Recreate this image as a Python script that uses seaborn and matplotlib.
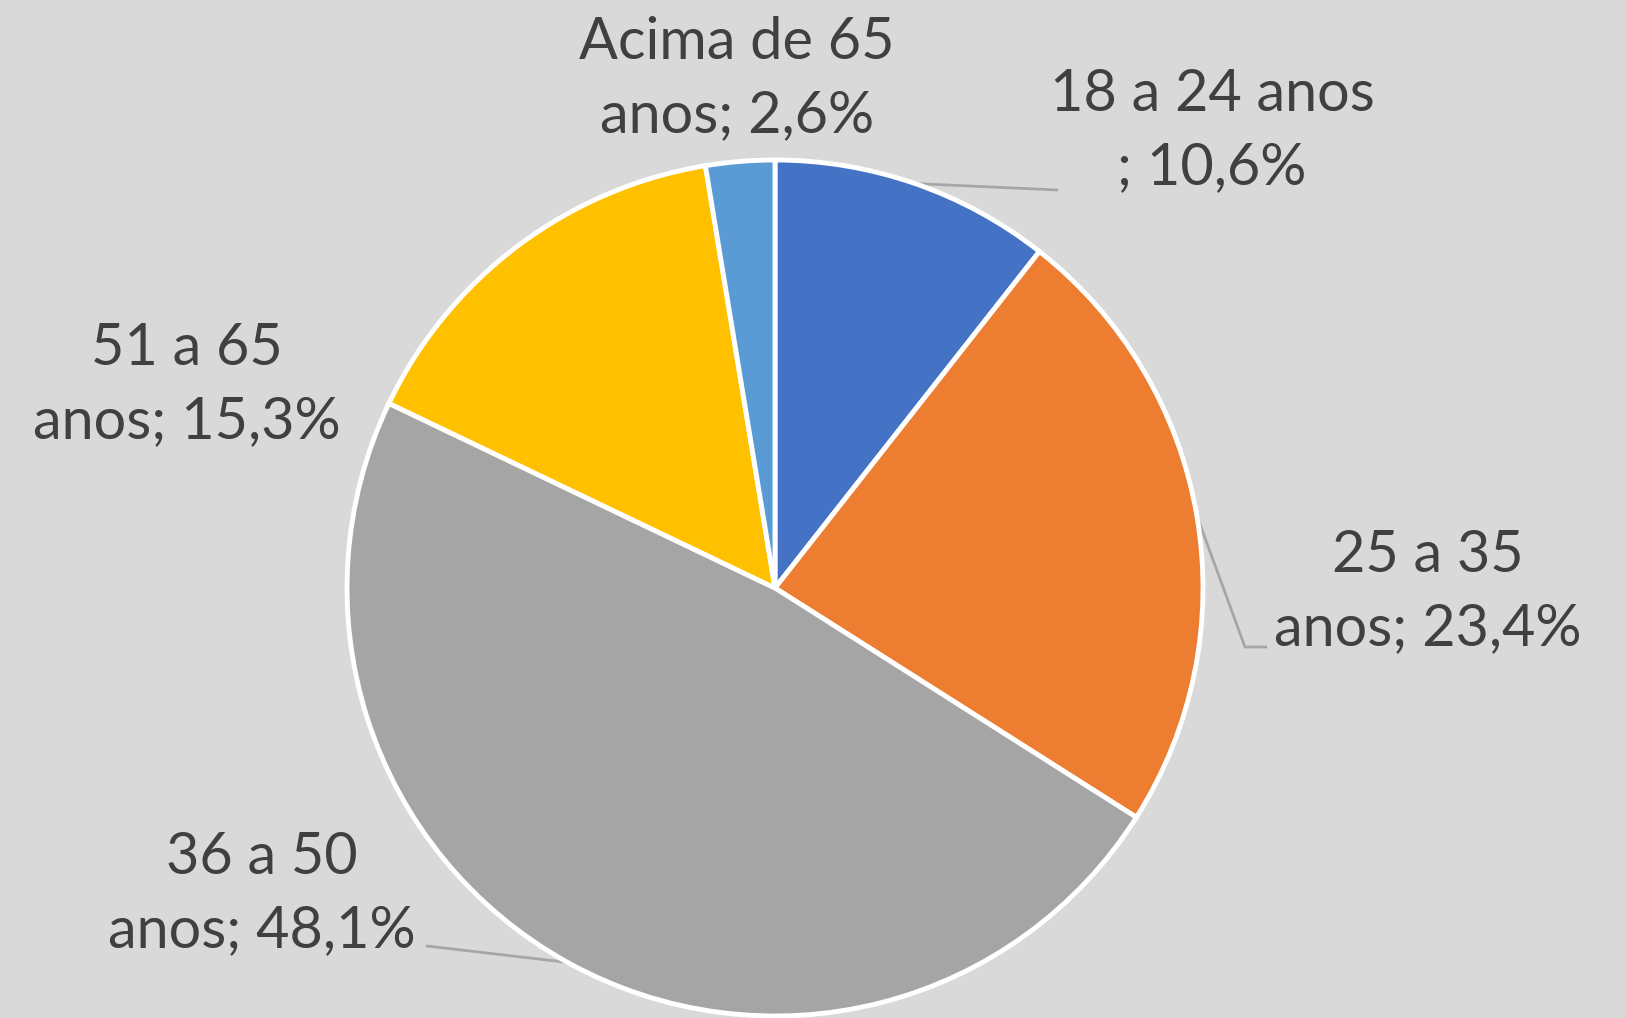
import numpy as np
import matplotlib
matplotlib.use("Agg")
import matplotlib.pyplot as plt
import seaborn as sns

# dados: faixas etarias (%)
faixas = ["18 a 24 anos", "25 a 35 anos", "36 a 50 anos", "51 a 65 anos", "Acima de 65 anos"]
percentuais = [10.6, 23.4, 48.1, 15.3, 2.6]
rotulos = ["18 a 24 anos\n; 10,6%", "25 a 35\nanos; 23,4%", "36 a 50\nanos; 48,1%",
           "51 a 65\nanos; 15,3%", "Acima de 65\nanos; 2,6%"]
cores = ["#4472C4", "#ED7D31", "#A5A5A5", "#FFC000", "#5B9BD5"]

sns.set_style("white")
plt.rcParams["font.family"] = ["Lato", "DejaVu Sans"]

W, H = 1625, 1018
fig = plt.figure(figsize=(W / 100, H / 100), dpi=100, facecolor="#D9D9D9")
ax = fig.add_axes([0, 0, 1, 1])
ax.set_facecolor("#D9D9D9")

# pixel coords (y from top) -> data coords
def py(y):
    return H - y

centro = (775, py(588))
raio = 428

wedges, _ = ax.pie(percentuais, colors=cores, startangle=90, counterclock=False,
                   center=centro, radius=raio,
                   wedgeprops=dict(edgecolor="white", linewidth=3.5))

# posicao dos rotulos (centro do texto) e fim da linha guia
pos_rotulos = [(1212, 131), (1428, 592), (262, 894), (187, 385), (737, 79)]
guias = [[(1057, 190)], [(1245, 647), (1266, 647)], [(427, 946)], None, None]

for w, txt, (x, y), g in zip(wedges, rotulos, pos_rotulos, guias):
    ax.text(x, py(y), txt, ha="center", va="center", fontsize=41.5,
            color="#404040", linespacing=1.45)
    if g:
        ang = np.deg2rad((w.theta1 + w.theta2) / 2)
        xs = [centro[0] + raio * np.cos(ang)] + [p[0] for p in g]
        ys = [centro[1] + raio * np.sin(ang)] + [py(p[1]) for p in g]
        ax.plot(xs, ys, color="#A6A6A6", linewidth=2, zorder=0.5)

ax.set_xlim(0, W)
ax.set_ylim(0, H)
ax.set_aspect("equal")
ax.axis("off")

fig.savefig("out.png", dpi=100, facecolor=fig.get_facecolor())
